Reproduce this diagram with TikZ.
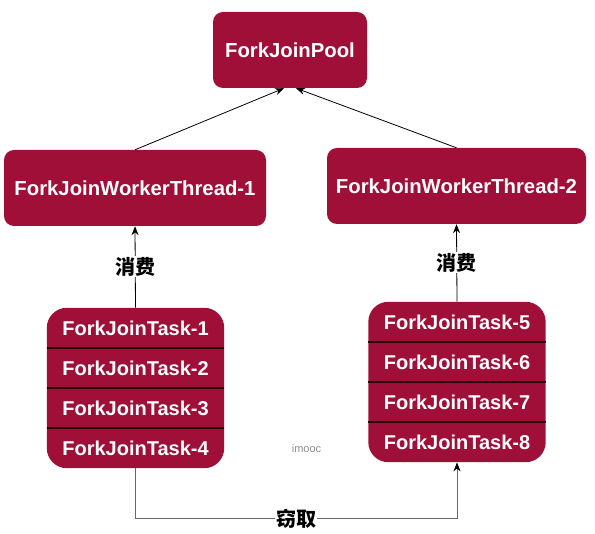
\documentclass[tikz,border=0pt]{standalone}
\usepackage{fontspec}
\setmainfont{Liberation Sans}
\newfontfamily\cjk{Noto Sans CJK SC}
\usepackage{tikz}
\usetikzlibrary{positioning,fit,backgrounds}
\usetikzlibrary{calc,arrows.meta}
\definecolor{crimson}{RGB}{160,15,56}
\tikzset{
	box/.style={fill=crimson,rounded corners=10pt,text=white,font=\bfseries\fontsize{20.3}{22}\selectfont,inner sep=0pt},
	row/.style={minimum width=177pt,minimum height=40pt,text=white,font=\bfseries\fontsize{20}{22}\selectfont,inner sep=0pt},
	stackbox/.style={fill=crimson,rounded corners=20pt,inner sep=0pt},
	rowline/.style={draw=crimson!25!black,line width=1.6pt},
	consume/.style={thick,-{Stealth[length=9pt,width=7pt,color=black]}},
	lbl/.style={fill=white,inner sep=1pt,font=\cjk\bfseries\fontsize{20}{22}\selectfont}
}

\begin{document}
\begin{tikzpicture}[x=1pt,y=-1pt]
\useasboundingbox (0,0) rectangle (595,534);
	\def\rowh{40}
	\def\stAx{135.5}
	\def\stAy{308}
	\def\stBx{457}
	\def\stBy{302}

%Pool et threads
\node[box,minimum width=154pt,minimum height=76pt] (pool) at (290,50) {ForkJoinPool};
\node[box,minimum width=262pt,minimum height=76pt] (thrA) at (135,188) {ForkJoinWorkerThread-1};
\node[box,minimum width=259pt,minimum height=76pt] (thrB) at (456.5,186) {ForkJoinWorkerThread-2};

%Files de taches
\foreach \i in {1,...,4} {
	\node[row] (a\i) at (\stAx,\stAy+\rowh*\i-\rowh/2) {ForkJoinTask-\i};
}
\foreach \i/\n in {1/5,2/6,3/7,4/8} {
	\node[row] (b\i) at (\stBx,\stBy+\rowh*\i-\rowh/2) {ForkJoinTask-\n};
}
\begin{scope}[on background layer]
	\node[stackbox,fit=(a1)(a4)] (stackA) {};
	\node[stackbox,fit=(b1)(b4)] (stackB) {};
\end{scope}
\foreach \i in {1,2,3} {
	\draw[rowline] (stackA.west |- a\i.south) -- (stackA.east |- a\i.south);
	\draw[rowline] (stackB.west |- b\i.south) -- (stackB.east |- b\i.south);
}

%Fleches vers le pool
\draw[consume] (thrA.north) -- ([xshift=-6pt]pool.south);
\draw[consume] (thrB.north) -- ([xshift=6pt]pool.south);

%Consommation
\draw[consume] (stackA.north) -- node[lbl] {消费} (thrA.south);
\draw[consume] (stackB.north) -- node[lbl] {消费} (thrB.south);

%Vol de taches
\coordinate (stealA) at ($(stackA.south)+(0,50)$);
\coordinate (stealB) at (stackB.south |- stealA);
\draw[consume,black!60] (stackA.south) -- (stealA) -- node[lbl,text=black] {窃取} (stealB) -- (stackB.south);

\node[text=black!45,font=\fontsize{11}{12}\selectfont] (mark) at (306.5,449) {imooc};

\end{tikzpicture}
\end{document}
